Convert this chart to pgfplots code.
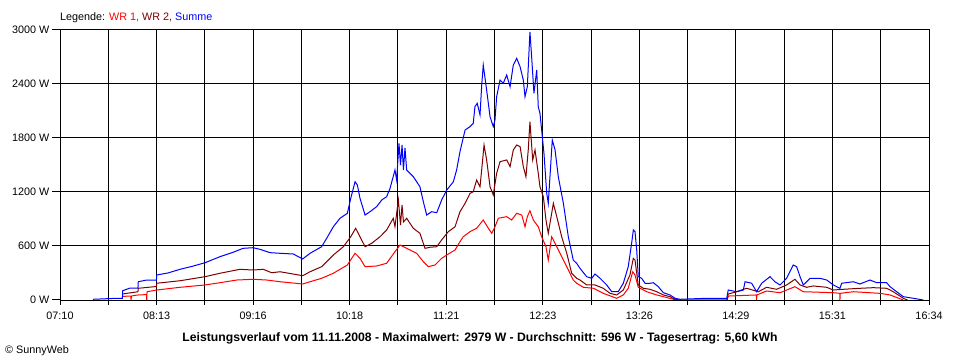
\documentclass[border=0pt]{standalone}
\usepackage{fontspec}
\setmainfont{Liberation Sans}
\usepackage{pgfplots}
\pgfplotsset{compat=1.18}
\definecolor{wrone}{RGB}{255,0,0}
\definecolor{wrtwo}{RGB}{128,0,0}
\definecolor{summe}{RGB}{0,0,255}
\definecolor{gline}{RGB}{128,128,128}
\newcommand{\smallfont}{\fontsize{10.8bp}{13bp}\selectfont}
\begin{document}
\begin{tikzpicture}
\path[use as bounding box] (0,0) rectangle (960bp,360bp);
\begin{axis}[
 at={(60bp,60bp)}, anchor=south west, scale only axis,
 width=869bp, height=270bp,
 xmin=0, xmax=564, ymin=0, ymax=3000,
 axis line style={line width=1bp, black},
 xtick={0,62.667,125.333,188,250.667,313.333,376,438.667,501.333,564},
 xticklabels={07:10,08:13,09:16,10:18,11:21,12:23,13:26,14:29,15:31,16:34},
 minor xtick={31.333,94,156.667,219.333,282,344.667,407.333,470,532.667},
 xmajorgrids, xminorgrids, ymajorgrids,
 major grid style={line width=1bp, black},
 minor grid style={line width=1bp, black},
 ytick={0,1200,1800,2400,3000},
 yticklabels={0 W,1200 W,1800 W,2400 W,3000 W},
 extra y ticks={600}, extra y tick labels={600 W},
 extra y tick style={grid style={line width=1bp, gline}},
 tick align=outside,
 major tick length=5bp, minor tick length=5bp,
 xtick pos=bottom, ytick pos=left,
 tick style={line width=1bp, black},
 ytick style={draw=none},
 xticklabel style={font=\smallfont, inner sep=0pt, anchor=north, yshift=-7bp},
 yticklabel style={font=\smallfont, inner sep=0pt, anchor=east, xshift=-5.5bp},
 every axis plot/.append style={line width=1bp},
]
\addplot[wrone] coordinates {
(40.7,40)(45.4,44)(46,44)(46.1,0)(46.4,44)(50,55)(56.2,60)(56.3,0)(56.5,92)(62.8,111)(77.9,141)(94.1,167)(103.8,192)(114.7,222)(125.5,230)(134.2,222)(142.8,203)(157.5,178)(162.3,203)(169.8,241)(177.4,297)(186.5,389)(191.5,519)(194.7,463)(198.0,370)(205.5,378)(212.0,408)(217.4,537)(220.7,611)(225.0,574)(231.5,519)(235.8,426)(239.0,370)(243.4,389)(247.7,463)(252.0,511)(256.4,556)(259.6,648)(261.7,703)(266.1,759)(270.4,797)(274.7,889)(278.0,797)(280.2,741)(282.3,814)(284.5,908)(289.9,926)(293.1,889)(296.4,963)(299.7,944)(301.8,814)(303.3,926)(305.0,992)(307.2,889)(310.4,814)(312.6,703)(315.4,592)(316.9,444)(319.1,703)(321.3,630)(324.5,519)(328.9,370)(333.1,222)(335.3,186)(339.7,141)(346.3,130)(352.6,74)(361.3,19)(365.6,56)(368.8,130)(371.7,314)(373.2,278)(375.3,141)(380.8,92)(387.3,56)(391.6,37)(398.1,8)(402,0)(433,0)(433.7,44)(452.0,56)(452.1,0)(452.3,56)(458.6,100)(467.3,81)(477.0,148)(482.4,92)(501.9,81)(506.1,74)(506.2,0)(506.4,74)(514.9,92)(532.2,74)(538.7,56)(547.3,0)
};
\addplot[wrtwo] coordinates {
(40.7,67)(50.6,92)(50.8,130)(62.6,150)(62.8,186)(77.9,214)(94.1,259)(103.8,297)(116.8,341)(125.5,333)(131.9,341)(137.4,303)(142.8,314)(157.5,270)(162.3,314)(169.8,370)(177.4,500)(183.9,592)(188.7,703)(191.9,797)(194.7,703)(198.0,592)(202.3,630)(207.7,703)(212.0,778)(216.3,908)(217.4,814)(219.6,1111)(221.0,833)(222.0,1056)(222.9,867)(225.0,908)(229.3,797)(233.6,741)(236.9,574)(240.1,586)(244.5,592)(247.7,667)(252.0,759)(256.4,814)(259.6,981)(262.9,1074)(266.1,1185)(268.2,1203)(270.4,1333)(272.6,1259)(274.3,1556)(275.2,1722)(276.9,1556)(279.1,1259)(281.2,1167)(283.4,1408)(285.6,1537)(289.9,1556)(292.1,1481)(294.2,1667)(296.4,1722)(298.6,1704)(300.7,1481)(302.4,1370)(303.9,1667)(305.0,1981)(306.8,1556)(308.3,1667)(310.4,1408)(311.5,1259)(313.7,1148)(315.4,889)(316.9,741)(320.2,1074)(322.4,926)(325.6,703)(328.9,519)(332.1,297)(335.3,241)(337.5,222)(341.8,167)(347.2,167)(352.6,130)(357.0,74)(361.3,56)(365.6,111)(369.9,278)(372.1,463)(373.2,444)(375.3,167)(378.6,130)(382.9,119)(387.3,92)(391.6,56)(395.9,37)(399.2,8)(402,0)(433,0)(433.7,67)(439.2,92)(443.5,119)(445.7,130)(453.2,92)(458.6,141)(465.1,119)(471.6,167)(477.0,230)(480.3,167)(484.6,141)(488.9,156)(497.6,141)(501.9,111)(508.4,119)(519.2,130)(527.9,137)(536.5,130)(540.8,92)(547.3,19)(550,0)
};
\addplot[summe] coordinates {
(21.4,8)(37.0,19)(40.5,19)(40.7,103)(45.4,133)(50.6,133)(50.8,203)(56.3,222)(62.6,222)(62.8,278)(70,300)(77.9,341)(86,375)(94.1,414)(103.8,481)(112.3,530)(118.8,574)(125.3,581)(129.8,563)(136.3,526)(142.8,519)(151.4,511)(157.5,456)(162.3,519)(169.8,592)(173.1,686)(177.4,814)(181.7,908)(186.5,963)(188.7,1130)(191.5,1314)(193.0,1278)(194.7,1130)(198.0,944)(201.2,981)(205.5,1037)(208.8,1111)(212.0,1148)(214.2,1241)(217.4,1444)(218.5,1333)(220.0,1741)(221.0,1500)(222.0,1722)(222.9,1444)(223.9,1689)(225.0,1444)(229.3,1370)(233.6,1259)(235.8,1092)(238.0,944)(241.2,981)(244.5,970)(247.7,1111)(251.0,1222)(255.3,1314)(257.4,1444)(259.6,1648)(262.9,1889)(266.1,1926)(268.2,1963)(269.3,2148)(270.8,2185)(272.6,2056)(273.7,2389)(274.7,2611)(276.9,2333)(279.1,2037)(281.2,1926)(282.3,2000)(283.4,2259)(285.6,2444)(287.7,2408)(289.9,2500)(292.1,2370)(294.2,2611)(296.4,2685)(298.6,2592)(300.7,2444)(301.8,2259)(303.3,2370)(305.0,2979)(306.1,2704)(307.6,2296)(309.4,2556)(310.4,2148)(311.5,2074)(312.6,1889)(314.1,1630)(315.9,1185)(316.9,1074)(318.0,1370)(319.5,1778)(321.3,1667)(323.4,1370)(326.7,1074)(329.9,703)(333.1,444)(335.3,408)(337.5,352)(341.8,259)(345.1,241)(347.2,289)(350.5,241)(354.8,167)(358.1,92)(362.3,92)(365.6,186)(368.8,370)(371.0,630)(372.1,778)(373.2,759)(374.3,556)(375.3,259)(377.5,241)(379.7,186)(382.9,186)(385.1,192)(388.3,148)(391.6,81)(395.9,56)(399.2,19)(402.4,8)(419.7,19)(432.7,19)(433.7,111)(439.2,92)(443.5,111)(444.6,203)(448.9,186)(452.1,92)(455.4,186)(460.8,259)(464.0,203)(467.3,167)(471.6,241)(475.9,389)(478.1,370)(480.3,259)(482.4,167)(484.6,203)(486.8,241)(493.3,241)(497.6,222)(501.9,167)(506.2,130)(507.3,186)(514.9,203)(519.2,178)(525.7,222)(530.1,192)(536.5,192)(538.7,148)(543.0,92)(547.3,37)(553.8,19)(560.3,0)
};
\end{axis}
\foreach \k in {0,1,...,5} \draw[line width=1bp, black] (52bp,60bp+\k*54bp) -- (60bp,60bp+\k*54bp);
\node[anchor=base west, inner sep=0pt, font=\smallfont] at (60bp,339bp)
  {Legende: \textcolor{wrone}{WR 1,} \textcolor{wrtwo}{WR 2,} \textcolor{summe}{Summe}};
\node[anchor=base, inner sep=0pt, font=\fontsize{12.2bp}{14bp}\selectfont\bfseries] at (480bp,19bp)
  {Leistungsverlauf vom 11.11.2008 - Maximalwert: 2979 W - Durchschnitt: 596 W - Tagesertrag: 5,60 kWh};
\node[anchor=base west, inner sep=0pt, font=\smallfont] at (5bp,7bp) {© SunnyWeb};
\end{tikzpicture}
\end{document}
